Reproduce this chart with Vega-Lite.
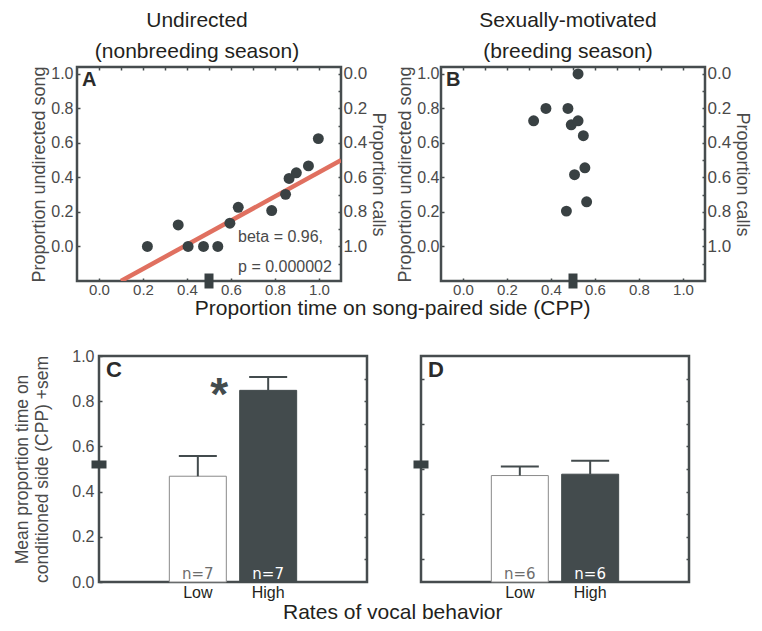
{
  "$schema": "https://vega.github.io/schema/vega-lite/v6.json",
  "background": "white",
  "padding": {"left": 0, "top": 8, "right": 2, "bottom": 2},
  "config": {
    "view": {"stroke": "#464c4e", "strokeWidth": 2.5},
    "axis": {
      "domain": false, "grid": false, "tickColor": "#464c4e", "tickWidth": 1.5, "tickSize": -3,
      "labelOverlap": false, "labelFlush": false,
      "labelColor": "#4a4a4a", "titleColor": "#4a4a4a",
      "labelFont": "Liberation Sans, Arial, sans-serif",
      "titleFont": "Liberation Sans, Arial, sans-serif",
      "titleFontWeight": "normal"
    }
  },
  "spacing": 26,
  "vconcat": [
    {
      "spacing": 0,
      "hconcat": [
        {"width": 27, "height": 1, "view": {"stroke": "transparent"}, "data": {"values": [{}]}, "mark": {"type": "point", "opacity": 0}},
        {
          "spacing": 7,
          "title": {"text": "Proportion time on song-paired side (CPP)", "orient": "bottom", "anchor": "middle", "font": "Liberation Sans", "fontSize": 21, "fontWeight": "normal", "color": "#231f20", "offset": 0, "dx": 2},
          "hconcat": [
            {
              "width": 264, "height": 214,
              "title": {"text": ["Undirected", "(nonbreeding season)"], "font": "Liberation Sans", "fontSize": 21, "fontWeight": "normal", "lineHeight": 31, "color": "#231f20", "anchor": "middle", "offset": 3, "dx": -12},
              "layer": [
                {
                  "layer": [
                    {
                      "data": {"values": [{"cpp": 0.1, "song": -0.2}, {"cpp": 1.1, "song": 0.5}]},
                      "mark": {"type": "line", "color": "#e07060", "strokeWidth": 4.5, "clip": true},
                      "encoding": {
                        "x": {"field": "cpp", "type": "quantitative", "scale": {"domain": [-0.1, 1.1], "nice": false, "zero": false}},
                        "y": {"field": "song", "type": "quantitative", "scale": {"domain": [-0.2, 1.04], "nice": false, "zero": false}}
                      }
                    },
                    {
                      "data": {"values": [
                        {"cpp": 0.22, "song": 0.0}, {"cpp": 0.36, "song": 0.125}, {"cpp": 0.405, "song": 0.0},
                        {"cpp": 0.475, "song": 0.0}, {"cpp": 0.54, "song": 0.0}, {"cpp": 0.595, "song": 0.135},
                        {"cpp": 0.633, "song": 0.227}, {"cpp": 0.785, "song": 0.208}, {"cpp": 0.848, "song": 0.302},
                        {"cpp": 0.864, "song": 0.394}, {"cpp": 0.897, "song": 0.427}, {"cpp": 0.952, "song": 0.467},
                        {"cpp": 0.997, "song": 0.625}
                      ]},
                      "mark": {"type": "circle", "size": 120, "color": "#394143", "opacity": 1},
                      "encoding": {
                        "x": {"field": "cpp", "type": "quantitative", "axis": {"orient": "bottom", "values": [0, 0.1, 0.2, 0.3, 0.4, 0.5, 0.6, 0.7, 0.8, 0.9, 1], "labelExpr": "round(datum.value*10) % 2 === 0 ? format(datum.value, '.1f') : ''", "labelOverlap": false, "labelFontSize": 15, "labelPadding": 4, "title": null}},
                        "y": {"field": "song", "type": "quantitative", "axis": {"orient": "left", "values": [0, 0.1, 0.2, 0.3, 0.4, 0.5, 0.6, 0.7, 0.8, 0.9, 1], "labelExpr": "round(datum.value*10) % 2 === 0 ? format(datum.value, '.1f') : ''", "labelOverlap": false, "labelFontSize": 16, "labelPadding": 7, "title": "Proportion undirected song", "titleFontSize": 18, "titlePadding": 2}}
                      }
                    },
                    {
                      "data": {"values": [{"cpp": 0.5}]},
                      "mark": {"type": "tick", "orient": "vertical", "thickness": 9, "size": 15, "color": "#394143", "opacity": 1},
                      "encoding": {
                        "x": {"field": "cpp", "type": "quantitative"},
                        "y": {"datum": -0.2, "type": "quantitative"}
                      }
                    },
                    {
                      "data": {"values": [{}]},
                      "mark": {"type": "text", "align": "left", "baseline": "top", "font": "Liberation Sans", "fontSize": 16, "lineHeight": 30, "color": "#4a4a4a"},
                      "encoding": {
                        "x": {"datum": 0.632, "type": "quantitative"},
                        "y": {"datum": 0.1, "type": "quantitative"},
                        "text": {"value": ["beta = 0.96,", "p = 0.000002"]}
                      }
                    },
                    {
                      "data": {"values": [{}]},
                      "mark": {"type": "text", "align": "left", "baseline": "top", "font": "Liberation Sans", "fontSize": 20, "fontWeight": "bold", "dx": 5, "dy": 3, "color": "#2b2b2b"},
                      "encoding": {
                        "x": {"datum": -0.1, "type": "quantitative"},
                        "y": {"datum": 1.04, "type": "quantitative"},
                        "text": {"value": "A"}
                      }
                    }
                  ]
                },
                {
                  "data": {"values": [{"v": 0}]},
                  "mark": {"type": "point", "opacity": 0},
                  "encoding": {
                    "x": {"field": "v", "type": "quantitative", "scale": {"domain": [-0.1, 1.1], "nice": false, "zero": false}, "axis": {"orient": "top", "values": [0, 0.1, 0.2, 0.3, 0.4, 0.5, 0.6, 0.7, 0.8, 0.9, 1], "labels": false, "title": null}},
                    "y": {"field": "v", "type": "quantitative", "scale": {"domain": [-0.04, 1.2], "nice": false, "zero": false, "reverse": true}, "axis": {"orient": "right", "values": [0, 0.1, 0.2, 0.3, 0.4, 0.5, 0.6, 0.7, 0.8, 0.9, 1, 1.1], "labelExpr": "datum.value <= 1.001 && round(datum.value*10) % 2 === 0 ? format(datum.value, '.1f') : ''", "labelOverlap": false, "labelFontSize": 17, "labelPadding": 5, "title": "Proportion calls", "titleFontSize": 18, "titlePadding": 2}}
                  }
                }
              ],
              "resolve": {"scale": {"x": "independent", "y": "independent"}}
            },
            {
              "width": 264, "height": 214,
              "title": {"text": ["Sexually-motivated", "(breeding season)"], "font": "Liberation Sans", "fontSize": 21, "fontWeight": "normal", "lineHeight": 31, "color": "#231f20", "anchor": "middle", "offset": 3, "dx": -5},
              "layer": [
                {
                  "layer": [
                    {
                      "data": {"values": [
                        {"cpp": 0.523, "song": 1.0}, {"cpp": 0.377, "song": 0.8}, {"cpp": 0.477, "song": 0.8},
                        {"cpp": 0.321, "song": 0.728}, {"cpp": 0.492, "song": 0.705}, {"cpp": 0.523, "song": 0.728},
                        {"cpp": 0.547, "song": 0.642}, {"cpp": 0.554, "song": 0.456}, {"cpp": 0.507, "song": 0.416},
                        {"cpp": 0.562, "song": 0.259}, {"cpp": 0.47, "song": 0.205}
                      ]},
                      "mark": {"type": "circle", "size": 120, "color": "#394143", "opacity": 1},
                      "encoding": {
                        "x": {"field": "cpp", "type": "quantitative", "scale": {"domain": [-0.1, 1.1], "nice": false, "zero": false}, "axis": {"orient": "bottom", "values": [0, 0.1, 0.2, 0.3, 0.4, 0.5, 0.6, 0.7, 0.8, 0.9, 1], "labelExpr": "round(datum.value*10) % 2 === 0 ? format(datum.value, '.1f') : ''", "labelOverlap": false, "labelFontSize": 15, "labelPadding": 4, "title": null}},
                        "y": {"field": "song", "type": "quantitative", "scale": {"domain": [-0.2, 1.04], "nice": false, "zero": false}, "axis": {"orient": "left", "values": [0, 0.1, 0.2, 0.3, 0.4, 0.5, 0.6, 0.7, 0.8, 0.9, 1], "labelExpr": "round(datum.value*10) % 2 === 0 ? format(datum.value, '.1f') : ''", "labelOverlap": false, "labelFontSize": 16, "labelPadding": 5, "title": "Proportion undirected song", "titleFontSize": 18, "titlePadding": 2}}
                      }
                    },
                    {
                      "data": {"values": [{"cpp": 0.5}]},
                      "mark": {"type": "tick", "orient": "vertical", "thickness": 9, "size": 15, "color": "#394143", "opacity": 1},
                      "encoding": {
                        "x": {"field": "cpp", "type": "quantitative"},
                        "y": {"datum": -0.2, "type": "quantitative"}
                      }
                    },
                    {
                      "data": {"values": [{}]},
                      "mark": {"type": "text", "align": "left", "baseline": "top", "font": "Liberation Sans", "fontSize": 20, "fontWeight": "bold", "dx": 5, "dy": 3, "color": "#2b2b2b"},
                      "encoding": {
                        "x": {"datum": -0.1, "type": "quantitative"},
                        "y": {"datum": 1.04, "type": "quantitative"},
                        "text": {"value": "B"}
                      }
                    }
                  ]
                },
                {
                  "data": {"values": [{"v": 0}]},
                  "mark": {"type": "point", "opacity": 0},
                  "encoding": {
                    "x": {"field": "v", "type": "quantitative", "scale": {"domain": [-0.1, 1.1], "nice": false, "zero": false}, "axis": {"orient": "top", "values": [0, 0.1, 0.2, 0.3, 0.4, 0.5, 0.6, 0.7, 0.8, 0.9, 1], "labels": false, "title": null}},
                    "y": {"field": "v", "type": "quantitative", "scale": {"domain": [-0.04, 1.2], "nice": false, "zero": false, "reverse": true}, "axis": {"orient": "right", "values": [0, 0.1, 0.2, 0.3, 0.4, 0.5, 0.6, 0.7, 0.8, 0.9, 1, 1.1], "labelExpr": "datum.value <= 1.001 && round(datum.value*10) % 2 === 0 ? format(datum.value, '.1f') : ''", "labelOverlap": false, "labelFontSize": 17, "labelPadding": 5, "title": "Proportion calls", "titleFontSize": 18, "titlePadding": 2}}
                  }
                }
              ],
              "resolve": {"scale": {"x": "independent", "y": "independent"}}
            }
          ]
        }
      ]
    },
    {
      "spacing": 0,
      "hconcat": [
        {"width": 10, "height": 1, "view": {"stroke": "transparent"}, "data": {"values": [{}]}, "mark": {"type": "point", "opacity": 0}},
        {
          "spacing": 43,
          "title": {"text": "Rates of vocal behavior", "orient": "bottom", "anchor": "middle", "font": "Liberation Sans", "fontSize": 21, "fontWeight": "normal", "color": "#231f20", "offset": 1, "dx": 41},
          "hconcat": [
            {
              "width": 268, "height": 226,
              "layer": [
                {
                  "data": {"values": [
                    {"rate": "Low", "mean": 0.468, "upper": 0.557, "n": "n=7", "sig": ""},
                    {"rate": "High", "mean": 0.848, "upper": 0.907, "n": "n=7", "sig": "*"}
                  ]},
                  "encoding": {
                    "x": {"field": "rate", "type": "nominal", "sort": ["Low", "High"], "scale": {"paddingInner": 0.19, "paddingOuter": 1.11}, "axis": {"title": null, "labelAngle": 0, "ticks": false, "labelFont": "Liberation Sans", "labelFontSize": 16, "labelColor": "#231f20", "labelPadding": 2}}
                  },
                  "layer": [
                    {
                      "mark": {"type": "bar", "strokeWidth": 1},
                      "encoding": {
                        "y": {"field": "mean", "type": "quantitative", "scale": {"domain": [0, 1], "nice": false}, "axis": {"orient": "left", "values": [0, 0.1, 0.2, 0.3, 0.4, 0.5, 0.6, 0.7, 0.8, 0.9, 1], "labelExpr": "round(datum.value*10) % 2 === 0 ? format(datum.value, '.1f') : ''", "labelOverlap": false, "labelFont": "Liberation Sans", "labelFontSize": 16, "labelPadding": 8, "title": ["Mean proportion time on", "conditioned side (CPP) +sem"], "titleFontSize": 17.5, "titleLineHeight": 20, "titlePadding": 20}},
                        "fill": {"condition": {"test": "datum.rate === 'High'", "value": "#434b4d"}, "value": "white"},
                        "stroke": {"condition": {"test": "datum.rate === 'High'", "value": "#434b4d"}, "value": "#8a8a8a"}
                      }
                    },
                    {
                      "mark": {"type": "rule", "strokeWidth": 2, "color": "#434b4d"},
                      "encoding": {
                        "y": {"field": "mean", "type": "quantitative"},
                        "y2": {"field": "upper"}
                      }
                    },
                    {
                      "mark": {"type": "tick", "orient": "horizontal", "size": 38, "thickness": 2, "color": "#434b4d", "opacity": 1},
                      "encoding": {"y": {"field": "upper", "type": "quantitative"}}
                    },
                    {
                      "mark": {"type": "text", "baseline": "alphabetic", "dy": -3, "font": "DejaVu Sans", "fontSize": 15},
                      "encoding": {
                        "y": {"datum": 0, "type": "quantitative"},
                        "text": {"field": "n"},
                        "color": {"condition": {"test": "datum.rate === 'High'", "value": "white"}, "value": "#6d6d6d"}
                      }
                    },
                    {
                      "mark": {"type": "text", "baseline": "alphabetic", "dx": -49, "font": "Liberation Sans", "fontSize": 46, "fontWeight": "bold", "color": "#434b4d"},
                      "encoding": {
                        "y": {"datum": 0.76, "type": "quantitative"},
                        "text": {"field": "sig"}
                      }
                    }
                  ]
                },
                {
                  "data": {"values": [{"v": 0}]},
                  "encoding": {
                    "x": {"field": "v", "type": "quantitative", "scale": {"domain": [0, 1], "nice": false, "zero": false}, "axis": null},
                    "y": {"field": "v", "type": "quantitative", "scale": {"domain": [0, 1], "nice": false, "zero": false}, "axis": {"orient": "right", "values": [0.1, 0.2, 0.3, 0.4, 0.5, 0.6, 0.7, 0.8, 0.9], "labels": false, "title": null}}
                  },
                  "layer": [
                    {"mark": {"type": "point", "opacity": 0}},
                    {
                      "mark": {"type": "tick", "orient": "horizontal", "thickness": 8, "size": 15, "color": "#394143", "opacity": 1},
                      "encoding": {"x": {"datum": 0, "type": "quantitative", "axis": null}, "y": {"datum": 0.52, "type": "quantitative"}}
                    },
                    {
                      "mark": {"type": "text", "align": "left", "baseline": "top", "font": "Liberation Sans", "fontSize": 22, "fontWeight": "bold", "dx": 7, "dy": 4, "color": "#2b2b2b"},
                      "encoding": {"x": {"datum": 0, "type": "quantitative", "axis": null}, "y": {"datum": 1, "type": "quantitative"}, "text": {"value": "C"}}
                    }
                  ]
                }
              ],
              "resolve": {"scale": {"x": "independent", "y": "independent"}}
            },
            {
              "width": 268, "height": 226,
              "layer": [
                {
                  "data": {"values": [
                    {"rate": "Low", "mean": 0.471, "upper": 0.511, "n": "n=6"},
                    {"rate": "High", "mean": 0.477, "upper": 0.536, "n": "n=6"}
                  ]},
                  "encoding": {
                    "x": {"field": "rate", "type": "nominal", "sort": ["Low", "High"], "scale": {"paddingInner": 0.19, "paddingOuter": 1.11}, "axis": {"title": null, "labelAngle": 0, "ticks": false, "labelFont": "Liberation Sans", "labelFontSize": 16, "labelColor": "#231f20", "labelPadding": 2}}
                  },
                  "layer": [
                    {
                      "mark": {"type": "bar", "strokeWidth": 1},
                      "encoding": {
                        "y": {"field": "mean", "type": "quantitative", "scale": {"domain": [0, 1], "nice": false}, "axis": {"orient": "left", "values": [0.1, 0.2, 0.3, 0.4, 0.5, 0.6, 0.7, 0.8, 0.9], "labels": false, "title": null}},
                        "fill": {"condition": {"test": "datum.rate === 'High'", "value": "#434b4d"}, "value": "white"},
                        "stroke": {"condition": {"test": "datum.rate === 'High'", "value": "#434b4d"}, "value": "#8a8a8a"}
                      }
                    },
                    {
                      "mark": {"type": "rule", "strokeWidth": 2, "color": "#434b4d"},
                      "encoding": {
                        "y": {"field": "mean", "type": "quantitative"},
                        "y2": {"field": "upper"}
                      }
                    },
                    {
                      "mark": {"type": "tick", "orient": "horizontal", "size": 38, "thickness": 2, "color": "#434b4d", "opacity": 1},
                      "encoding": {"y": {"field": "upper", "type": "quantitative"}}
                    },
                    {
                      "mark": {"type": "text", "baseline": "alphabetic", "dy": -3, "font": "DejaVu Sans", "fontSize": 15},
                      "encoding": {
                        "y": {"datum": 0, "type": "quantitative"},
                        "text": {"field": "n"},
                        "color": {"condition": {"test": "datum.rate === 'High'", "value": "white"}, "value": "#6d6d6d"}
                      }
                    }
                  ]
                },
                {
                  "data": {"values": [{"v": 0}]},
                  "encoding": {
                    "x": {"field": "v", "type": "quantitative", "scale": {"domain": [0, 1], "nice": false, "zero": false}, "axis": null},
                    "y": {"field": "v", "type": "quantitative", "scale": {"domain": [0, 1], "nice": false, "zero": false}, "axis": {"orient": "right", "values": [0.1, 0.2, 0.3, 0.4, 0.5, 0.6, 0.7, 0.8, 0.9], "labels": false, "title": null}}
                  },
                  "layer": [
                    {"mark": {"type": "point", "opacity": 0}},
                    {
                      "mark": {"type": "tick", "orient": "horizontal", "thickness": 8, "size": 15, "color": "#394143", "opacity": 1},
                      "encoding": {"x": {"datum": 0, "type": "quantitative", "axis": null}, "y": {"datum": 0.52, "type": "quantitative"}}
                    },
                    {
                      "mark": {"type": "text", "align": "left", "baseline": "top", "font": "Liberation Sans", "fontSize": 22, "fontWeight": "bold", "dx": 7, "dy": 4, "color": "#2b2b2b"},
                      "encoding": {"x": {"datum": 0, "type": "quantitative", "axis": null}, "y": {"datum": 1, "type": "quantitative"}, "text": {"value": "D"}}
                    }
                  ]
                }
              ],
              "resolve": {"scale": {"x": "independent", "y": "independent"}}
            }
          ]
        }
      ]
    }
  ]
}
